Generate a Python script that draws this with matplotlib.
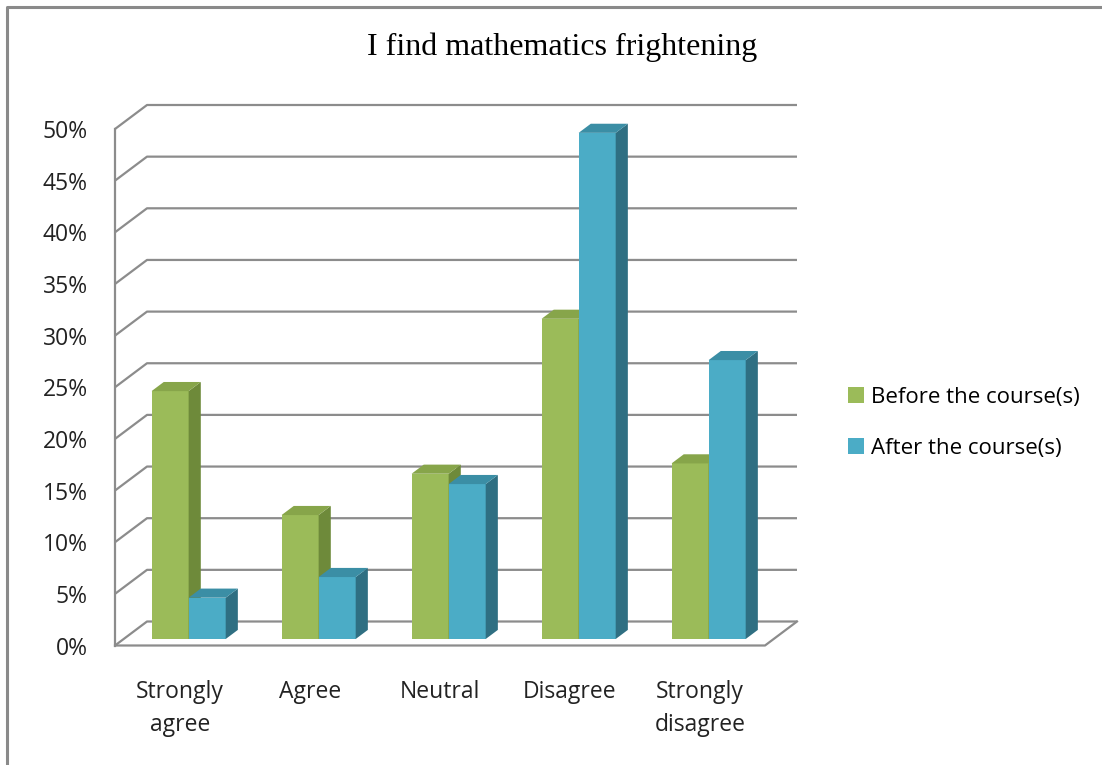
import numpy as np
import matplotlib.pyplot as plt
from matplotlib.patches import Polygon, Patch
from matplotlib.lines import Line2D

# Respuestas a "I find mathematics frightening" (porcentaje)
categorias = ["Strongly\nagree", "Agree", "Neutral", "Disagree", "Strongly\ndisagree"]
antes = [24, 12, 16, 31, 17]
despues = [4, 6, 15, 49, 27]
series = ["Before the course(s)", "After the course(s)"]
marcas = [0, 5, 10, 15, 20, 25, 30, 35, 40, 45, 50]

# colores: frente, lateral, tapa
verde = ("#9BBB59", "#6E8A3A", "#87A54A")
azul = ("#4BACC6", "#2F6F82", "#3B8EA5")
gris = "#8C8C8C"

W, H = 1102, 765
X0, UX = 115.0, 130.0      # pixel del origen y pixeles por categoria
Y0, UY = 645.5, 10.33      # pixel del 0% (desde arriba) y pixeles por 1%
DX, DY = 32.0 / UX, 24.0 / UY   # profundidad del piso
F0, F1 = 0.27, 0.65        # profundidad de las barras
ANCHO = 0.285


def Caja(ax, x, h, col):
    ox0, oy0 = DX * F0, DY * F0
    ox1, oy1 = DX * F1, DY * F1
    frente = [(x + ox0, oy0), (x + ox0 + ANCHO, oy0),
              (x + ox0 + ANCHO, oy0 + h), (x + ox0, oy0 + h)]
    lado = [(x + ANCHO + ox0, oy0), (x + ANCHO + ox1, oy1),
            (x + ANCHO + ox1, oy1 + h), (x + ANCHO + ox0, oy0 + h)]
    tapa = [(x + ox0, oy0 + h), (x + ANCHO + ox0, oy0 + h),
            (x + ANCHO + ox1, oy1 + h), (x + ox1, oy1 + h)]
    ax.add_patch(Polygon(frente, closed=True, fc=col[0], ec="none", zorder=3))
    ax.add_patch(Polygon(lado, closed=True, fc=col[1], ec="none", zorder=3))
    ax.add_patch(Polygon(tapa, closed=True, fc=col[2], ec="none", zorder=3))


def Graficar():
    fig = plt.figure(figsize=(W / 100, H / 100), dpi=100)
    ax = fig.add_axes([0, 0, 1, 1])
    ax.set_xlim(-X0 / UX, (W - X0) / UX)
    ax.set_ylim((Y0 - H) / UY, Y0 / UY)
    ax.axis("off")

    n = len(categorias)

    # paredes y lineas de division
    for t in marcas:
        ax.plot([0, DX, n + DX], [t, t + DY, t + DY], color=gris, lw=1.6,
                solid_capstyle="butt", zorder=1)
        ax.text(-0.21, t - 0.3, "%d%%" % t, ha="right", va="center",
                fontsize=16.5, color="#222222", family="Open Sans")
    ax.plot([0, 0], [0, marcas[-1]], color=gris, lw=1.6, zorder=1)
    ax.plot([0, n, n + DX], [0, 0, DY], color=gris, lw=1.6, zorder=1)

    for i in range(n):
        x = i + (1 - 2 * ANCHO) / 2
        Caja(ax, x, antes[i], verde)
        Caja(ax, x + ANCHO, despues[i], azul)
        ax.text(i + 0.5, -3.3, categorias[i], ha="center", va="top",
                fontsize=16.5, color="#222222", family="Open Sans",
                linespacing=1.55)

    fig.text(562 / W, 1 - 47 / H, "I find mathematics frightening",
             ha="center", va="center", fontsize=23, family="Liberation Serif")

    manijas = [Patch(fc=verde[0], ec="none"), Patch(fc=azul[0], ec="none")]
    fig.legend(manijas, series, loc="upper left",
               bbox_to_anchor=(828 / W, 1 - 367 / H), frameon=False,
               handlelength=0.7, handleheight=0.7, handletextpad=0.35,
               labelspacing=1.35, prop={"family": "Open Sans", "size": 16})

    # marco
    fig.add_artist(Line2D([7 / W, 7 / W, 1], [0, 1 - 7 / H, 1 - 7 / H],
                          color="#8A8A8A", lw=2.2))

    fig.savefig("out.png", dpi=100)


def main():
    Graficar()


if __name__ == "__main__":
    main()
